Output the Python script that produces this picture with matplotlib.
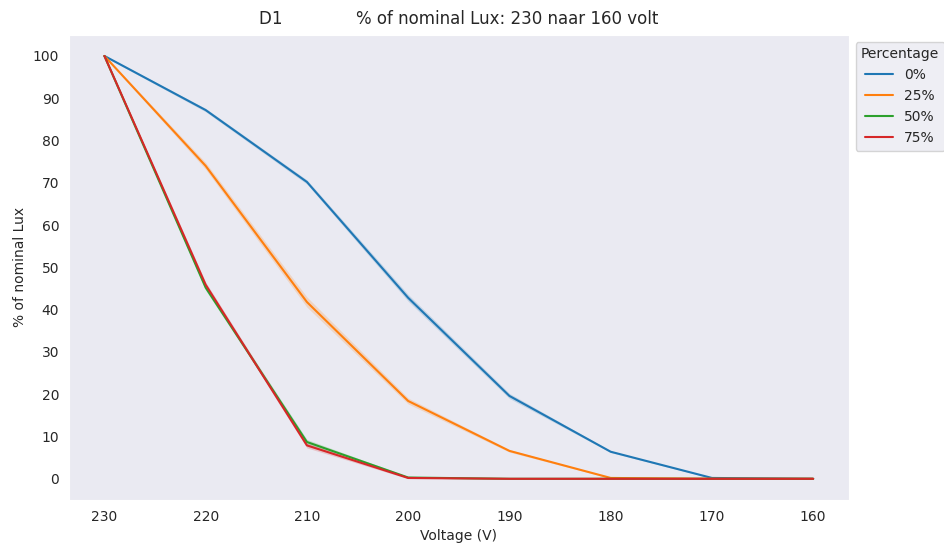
import matplotlib
matplotlib.use("Agg")
import matplotlib.pyplot as plt
import seaborn as sns
import numpy as np

sns.set_style("dark")

voltage = [230, 220, 210, 200, 190, 180, 170, 160]
percentages = ["0%", "25%", "50%", "75%"]

lux_0 = [100, 87.2, 70.2, 42.8, 19.6, 6.4, 0.2, 0.0]
lux_25 = [100, 74.0, 41.8, 18.4, 6.6, 0.2, 0.0, 0.0]
lux_50 = [100, 45.2, 8.7, 0.3, 0.0, 0.0, 0.0, 0.0]
lux_75 = [100, 45.9, 7.9, 0.2, 0.0, 0.0, 0.0, 0.0]

# spread of the repeated measurements (half-width of the band)
spread_0 = [0.2, 0.4, 0.5, 0.8, 0.6, 0.2, 0.1, 0.0]
spread_25 = [0.2, 0.8, 1.2, 0.7, 0.3, 0.1, 0.0, 0.0]
spread_50 = [0.2, 0.6, 0.6, 0.2, 0.0, 0.0, 0.0, 0.0]
spread_75 = [0.2, 0.6, 0.6, 0.2, 0.0, 0.0, 0.0, 0.0]

series = [lux_0, lux_25, lux_50, lux_75]
spreads = [spread_0, spread_25, spread_50, spread_75]
colors = sns.color_palette("tab10", 4)

fig = plt.figure(figsize=(9.45, 5.44), dpi=100)
ax = fig.add_axes([0.073, 0.081, 0.825, 0.855])

for name, y, s, c in zip(percentages, series, spreads, colors):
    y = np.array(y)
    s = np.array(s)
    ax.fill_between(voltage, y - s, y + s, color=c, alpha=0.2, linewidth=0)
    ax.plot(voltage, y, color=c, linewidth=1.5, label=name)

ax.set_xlim(233.5, 156.5)
ax.set_ylim(-5, 105)
ax.set_xticks(voltage)
ax.set_yticks(range(0, 101, 10))
ax.set_xlabel("Voltage (V)")
ax.set_ylabel("% of nominal Lux")
ax.set_title("D1              % of nominal Lux: 230 naar 160 volt", fontsize=12, pad=8)
ax.legend(title="Percentage", loc="upper left", bbox_to_anchor=(1.0, 1.0))

plt.savefig("out.png")
